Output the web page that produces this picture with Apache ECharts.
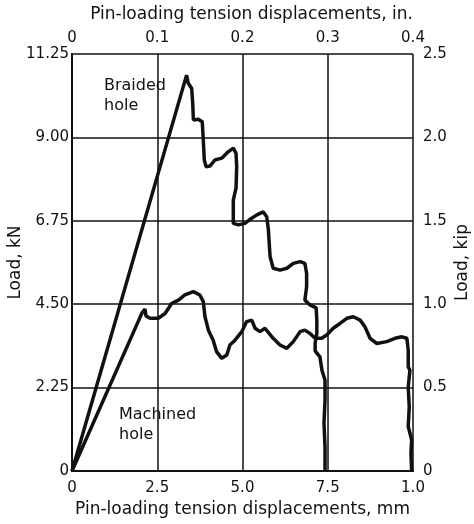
<!DOCTYPE html>
<html>
<head>
<meta charset="utf-8">
<script src="https://cdn.jsdelivr.net/npm/echarts@6/dist/echarts.min.js"></script>
<style>
  html, body { margin: 0; padding: 0; background: #fff; }
  #chart { width: 474px; height: 524px; }
</style>
</head>
<body>
<div id="chart"></div>
<script>
// tick labels
const mmTicks = { 0: '0', 2.5: '2.5', 5: '5.0', 7.5: '7.5', 10: '1.0' }
const inTicks = { 0: '0', 0.1: '0.1', 0.2: '0.2', 0.3: '0.3', 0.4: '0.4' }
const kNTicks = { 0: '0', 2.25: '2.25', 4.5: '4.50', 6.75: '6.75', 9: '9.00', 11.25: '11.25' }
const kipTicks = { 0: '0', 0.5: '0.5', 1: '1.0', 1.5: '1.5', 2: '2.0', 2.5: '2.5' }

// braided hole: displacement (mm), load (kN)
const braidedX = [0, 3.36, 3.41, 3.51, 3.54, 3.56, 3.70, 3.82, 3.85, 3.88, 3.93, 4.05, 4.19, 4.39, 4.58, 4.73,
  4.81, 4.83, 4.81, 4.73, 4.73, 4.73, 4.88, 5.07, 5.27, 5.42, 5.61, 5.71, 5.76, 5.79, 5.81, 5.90, 6.10, 6.30,
  6.49, 6.69, 6.83, 6.88, 6.88, 6.83, 6.98, 7.16, 7.18, 7.18, 7.13, 7.13, 7.27, 7.33, 7.42, 7.42, 7.39, 7.42, 7.42]
const braidedY = [0, 10.68, 10.46, 10.32, 9.92, 9.47, 9.49, 9.42, 8.93, 8.39, 8.21, 8.23, 8.39, 8.44, 8.61, 8.71,
  8.57, 8.21, 7.63, 7.31, 6.95, 6.68, 6.64, 6.68, 6.82, 6.91, 6.99, 6.86, 6.50, 6.05, 5.78, 5.47, 5.42, 5.47,
  5.60, 5.65, 5.60, 5.33, 4.97, 4.61, 4.48, 4.40, 4.07, 3.72, 3.45, 3.24, 3.08, 2.72, 2.45, 1.92, 1.29, 0.65, 0]

// machined hole
const machinedX = [0, 2.05, 2.14, 2.17, 2.29, 2.53, 2.73, 2.92, 3.12, 3.31, 3.56, 3.75, 3.85, 3.90, 4.00, 4.14,
  4.24, 4.39, 4.54, 4.63, 4.78, 4.98, 5.12, 5.27, 5.37, 5.51, 5.66, 5.90, 6.10, 6.30, 6.49, 6.69, 6.83, 6.98,
  7.13, 7.32, 7.47, 7.66, 7.86, 8.06, 8.25, 8.45, 8.59, 8.74, 8.94, 9.23, 9.47, 9.67, 9.82, 9.86, 9.86, 9.91,
  9.86, 9.89, 9.86, 9.96, 9.94, 9.96]
const machinedY = [0, 4.26, 4.37, 4.18, 4.12, 4.12, 4.25, 4.52, 4.61, 4.75, 4.84, 4.75, 4.57, 4.16, 3.80, 3.53,
  3.22, 3.04, 3.13, 3.40, 3.53, 3.76, 4.03, 4.07, 3.85, 3.76, 3.85, 3.58, 3.40, 3.31, 3.49, 3.76, 3.80, 3.71,
  3.58, 3.58, 3.67, 3.85, 3.98, 4.12, 4.16, 4.07, 3.89, 3.58, 3.44, 3.49, 3.58, 3.62, 3.58, 3.26, 2.81, 2.72,
  2.27, 1.73, 1.20, 0.84, 0.48, 0]

const pairs = (xs, ys) => xs.map((x, i) => [x, ys[i]])
const lbl = (map) => (v) => map[Math.round(v * 100) / 100] ?? ''

const font = '"DejaVu Sans", "Liberation Sans", sans-serif'
const txt = { color: '#111', fontSize: 15, fontFamily: font }
const nameTxt = { color: '#111', fontSize: 17, fontFamily: font }

const myChart = echarts.init(document.getElementById('chart'))

const option = {
  backgroundColor: '#fff',
  animation: false,
  grid: { left: 72, right: 61, top: 54, bottom: 53, outerBoundsMode: 'none' },
  xAxis: [
    {
      type: 'value', position: 'bottom', min: 0, max: 10, interval: 2.5,
      name: 'Pin-loading tension displacements, mm', nameLocation: 'middle', nameGap: 30,
      nameMoveOverlap: false,
      nameTextStyle: nameTxt,
      axisLine: { onZero: false, lineStyle: { color: '#111', width: 2 } },
      axisTick: { show: false },
      axisLabel: { ...txt, margin: 10, formatter: lbl(mmTicks) },
      splitLine: { show: true, lineStyle: { color: '#111', width: 1.5 } }
    },
    {
      type: 'value', position: 'top', min: 0, max: 0.4, interval: 0.1,
      name: 'Pin-loading tension displacements, in.', nameLocation: 'middle', nameGap: 31,
      nameMoveOverlap: false,
      nameTextStyle: { ...nameTxt, padding: [0, 0, 0, 18] },
      axisLine: { lineStyle: { color: '#111', width: 2 } },
      axisTick: { show: false },
      axisLabel: { ...txt, margin: 8, formatter: lbl(inTicks) },
      splitLine: { show: false }
    }
  ],
  yAxis: [
    {
      type: 'value', position: 'left', min: 0, max: 11.25, interval: 2.25,
      name: 'Load, kN', nameLocation: 'middle', nameGap: 48,
      nameMoveOverlap: false,
      nameTextStyle: nameTxt,
      axisLine: { show: true, onZero: false, lineStyle: { color: '#111', width: 2 } },
      axisTick: { show: false },
      axisLabel: { ...txt, margin: 3, formatter: lbl(kNTicks) },
      splitLine: { show: true, lineStyle: { color: '#111', width: 1.5 } }
    },
    {
      type: 'value', position: 'right', min: 0, max: 2.5, interval: 0.5,
      name: 'Load, kip', nameLocation: 'middle', nameGap: 41, nameRotate: 90,
      nameMoveOverlap: false,
      nameTextStyle: nameTxt,
      axisLine: { show: true, lineStyle: { color: '#111', width: 2 } },
      axisTick: { show: false },
      axisLabel: { ...txt, margin: 10, formatter: lbl(kipTicks) },
      splitLine: { show: false }
    }
  ],
  series: [
    {
      name: 'Braided hole', type: 'line', xAxisIndex: 0, yAxisIndex: 0,
      data: pairs(braidedX, braidedY), showSymbol: false,
      lineStyle: { color: '#111', width: 3.5 }
    },
    {
      name: 'Machined hole', type: 'line', xAxisIndex: 0, yAxisIndex: 0,
      data: pairs(machinedX, machinedY), showSymbol: false,
      lineStyle: { color: '#111', width: 3.5 }
    }
  ],
  graphic: [
    { type: 'text', left: 104, top: 76, style: { text: 'Braided\nhole', fill: '#111', font: '16px ' + font, lineHeight: 20 } },
    { type: 'text', left: 119, top: 405, style: { text: 'Machined\nhole', fill: '#111', font: '16px ' + font, lineHeight: 20 } }
  ]
}

myChart.setOption(option)
</script>
</body>
</html>
